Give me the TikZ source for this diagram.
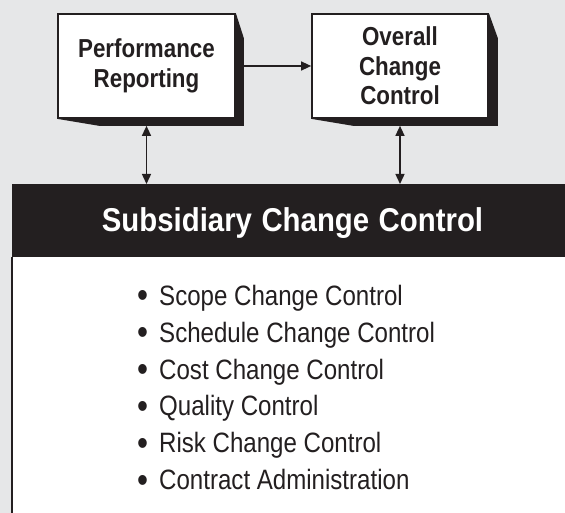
\documentclass[tikz,border=0pt]{standalone}
\usepackage{fontspec}
\usepackage{graphicx}
\setmainfont{Liberation Sans}[FakeStretch=0.86]
\newfontfamily\condfont{Liberation Sans}[FakeStretch=0.86]
\newfontfamily\titlefont{Liberation Sans}[FakeStretch=0.89]
\usetikzlibrary{arrows.meta,backgrounds}
\definecolor{bg}{HTML}{E6E7E8}
\definecolor{ink}{HTML}{231F20}
\newcommand{\itembul}{\makebox[22pt][l]{\raisebox{-2.5pt}{\scalebox{1.3}{•}}}}
\tikzset{
  procbox/.style={draw=ink, line width=1.7pt, fill=white, inner sep=0pt,
    align=center, text=ink, font=\condfont\bfseries\fontsize{26}{29.5}\selectfont},
  shadowfill/.style={fill=ink},
  onearr/.style={draw=ink, line width=1.4pt, -{Triangle[width=9pt,length=10pt]}},
  twoarr/.style={draw=ink, line width=1.4pt, {Triangle[width=9pt,length=10pt]}-{Triangle[width=9pt,length=10pt]}},
  bar/.style={fill=ink, inner sep=0pt, anchor=north west},
  titletext/.style={text=white, inner sep=0pt, anchor=base, font=\titlefont\bfseries\fontsize{33}{36}\selectfont},
  listtext/.style={text=ink, inner sep=0pt, anchor=base west, font=\condfont\fontsize{28}{37}\selectfont}
}
\begin{document}
\begin{tikzpicture}[x=1pt,y=-1pt]
\useasboundingbox (0,0) rectangle (565,513);
\clip (0,0) rectangle (565,513);

% boxes
\node[procbox, minimum width=177pt, minimum height=104pt] (pr) at (146.5,66) {Performance\\Reporting};
\node[procbox, minimum width=176pt, minimum height=104pt] (occ) at (400,66) {Overall\\Change\\Control};

\begin{pgfonlayer}{background}
\fill[bg] (0,0) rectangle (565,513);
% white panel
\fill[white] (12,257) rectangle (580,530);
\draw[ink, line width=2pt] (12,257) -- (12,530);
\fill[shadowfill] (pr.north east) -- ++(8,25) -- ([xshift=8pt,yshift=-7pt]pr.south east)
  -- ([xshift=42pt,yshift=-7pt]pr.south west) -- (pr.south west) -- cycle;
\fill[shadowfill] (occ.north east) -- ++(9,25) -- ([xshift=9pt,yshift=-7pt]occ.south east)
  -- ([xshift=42pt,yshift=-7pt]occ.south west) -- (occ.south west) -- cycle;
\end{pgfonlayer}

% subsidiary bar
\node[bar, minimum width=560pt, minimum height=73pt] (sub) at (12,184) {};
\node[titletext] (title) at (292.5,232) {Subsidiary\hspace{9.5pt}Change\hspace{9.5pt}Control};

% connectors
\draw[onearr] ([xshift=8pt]pr.east) -- (occ.west);
\draw[twoarr] ([yshift=-7pt]pr.south) -- (pr.south |- sub.north);
\draw[twoarr] ([yshift=-7pt]occ.south) -- (occ.south |- sub.north);

% list
\node[listtext] (list) at (137,305) {%
\begin{tabular}[t]{@{}l@{}}
\itembul Scope Change Control\\
\itembul Schedule Change Control\\
\itembul Cost Change Control\\
\itembul Quality Control\\
\itembul Risk Change Control\\
\itembul Contract Administration
\end{tabular}};
\end{tikzpicture}
\end{document}
